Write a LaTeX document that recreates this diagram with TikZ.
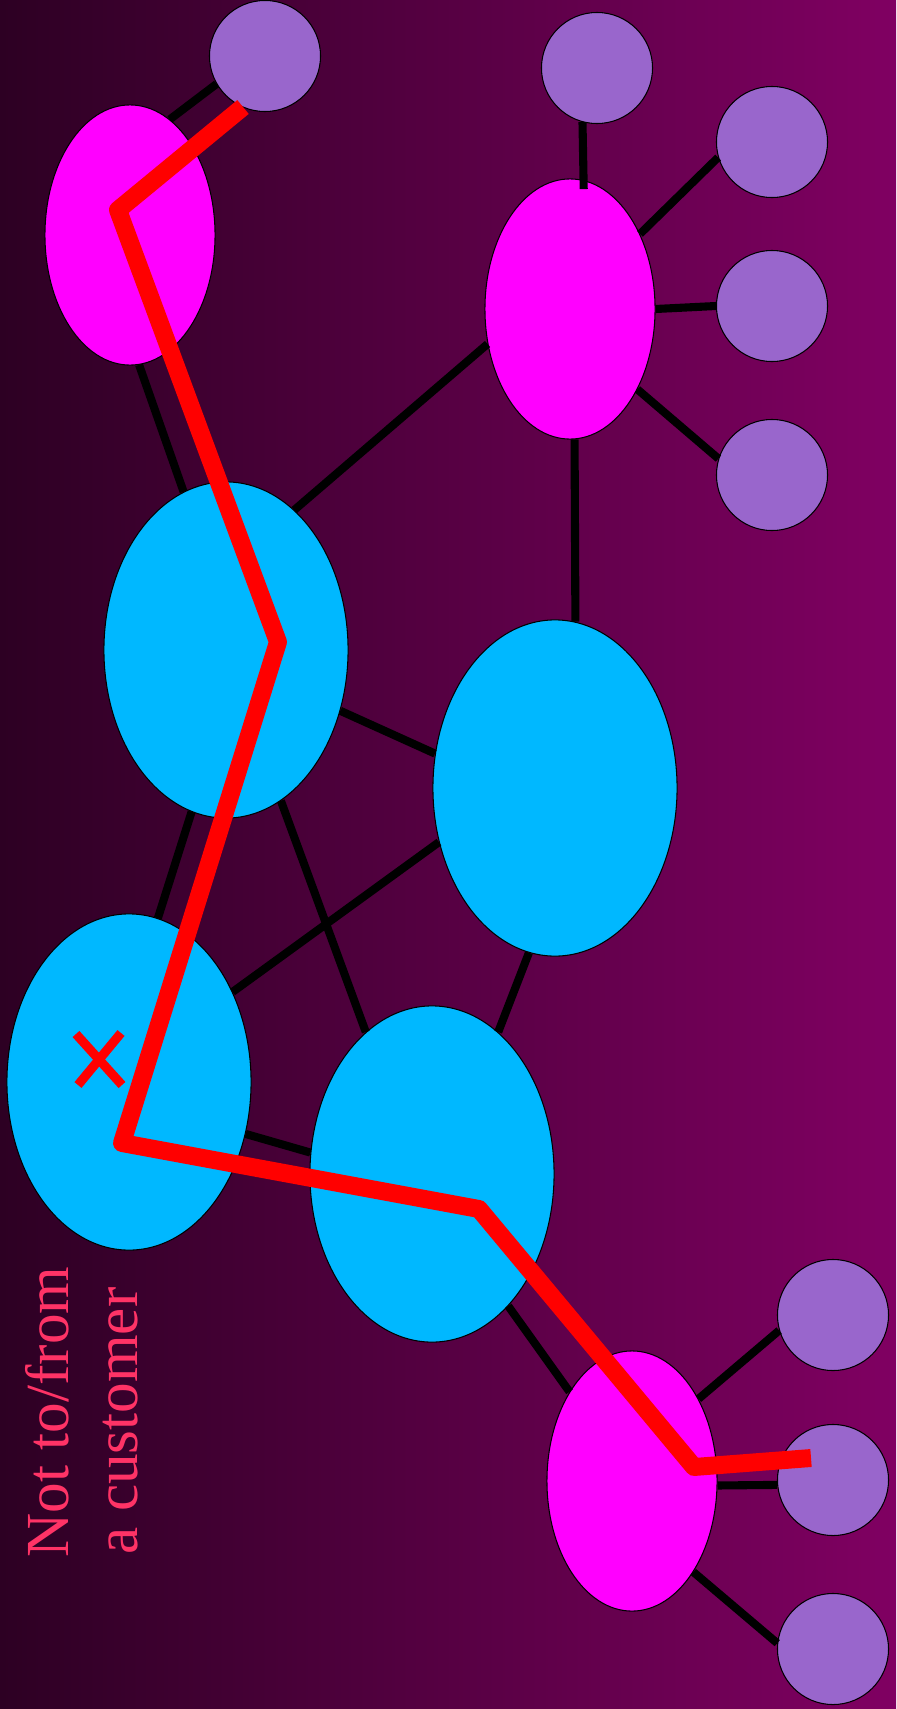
\documentclass[tikz,border=0pt]{standalone}
\usepackage{fontspec}
\setmainfont{Liberation Serif}
\usetikzlibrary{shapes.geometric}
\definecolor{bgL}{RGB}{45,0,35}
\definecolor{bgR}{RGB}{128,0,98}
\definecolor{mag}{RGB}{255,0,255}
\definecolor{cyn}{RGB}{0,184,255}
\definecolor{pur}{RGB}{153,102,204}
\definecolor{txt}{RGB}{255,51,102}
\begin{document}
\begin{tikzpicture}[x=0.01cm,y=-0.01cm,
  hub/.style={ellipse,draw=black,line width=0.3pt,fill=mag,inner sep=0pt,minimum width=1.70cm,minimum height=2.60cm},
  core/.style={ellipse,draw=black,line width=0.3pt,fill=cyn,inner sep=0pt,minimum width=2.44cm,minimum height=3.36cm},
  cust/.style={circle,draw=black,line width=0.3pt,fill=pur,inner sep=0pt,minimum size=1.11cm},
  link/.style={line width=2.3pt,black},
  route/.style={line width=5.1pt,red,line join=round},
  lbl/.style={text=txt,rotate=90,anchor=base west,inner sep=0pt,font=\fontsize{17.4pt}{20pt}\selectfont}]
\useasboundingbox (0,0) rectangle (896,1709);
\shade[left color=bgL,right color=bgR] (0,0) rectangle (896,1709);
% hubs
\node[hub] (M1) at (130,235) {};
\node[hub] (M2) at (570,309) {};
\node[hub] (M3) at (632,1481) {};
% core
\node[core] (C1) at (226,650) {};
\node[core] (C2) at (555,788) {};
\node[core] (C3) at (129,1082) {};
\node[core] (C4) at (432,1174) {};
% customers
\node[cust] (P1) at (265,56) {};
\node[cust] (P2) at (597,68) {};
\node[cust] (P3) at (772,142) {};
\node[cust] (P4) at (772,306) {};
\node[cust] (P5) at (772,475) {};
\node[cust] (P6) at (833,1315) {};
\node[cust] (P7) at (833,1480) {};
\node[cust] (P8) at (833,1649) {};
% links
\draw[link] (M1.71.7) -- (P1.210.8);
\draw[link] (M1.-86.5) -- (C1.105);
\draw[link] (C1.64.9) -- (M2.203.3);
\draw[link, shorten >=-0.09cm] (P2.255.7) -- (M2.84.3);
\draw[link] (M2.47.4) -- (P3.196.8);
\draw[link] (M2.0) -- (P4.180);
\draw[link] (M2.-50.3) -- (P5.163.9);
\draw[link] (M2.-88) -- (C2.83.6);
\draw[link] (C1.-28.7) -- (C2.164.9);
\draw[link] (C1.258.1) -- (C3.80.9);
\draw[link] (C1.-70) -- (C4.115.3);
\draw[link] (C2.205.6) -- (C3.41.2);
\draw[link] (C2.261.9) -- (C4.65.7);
\draw[link] (C3.-24.2) -- (C4.170);
\draw[link] (C4.-60.3) -- (M3.125.3);
\draw[link] (M3.51.8) -- (P6.196.7);
\draw[link] (M3.-3) -- (P7.185);
\draw[link] (M3.-56.5) -- (P8.174.9);
% route
\coordinate (r0) at (243,107);
\coordinate (r1) at (118,210);
\coordinate (r2) at (278,642);
\coordinate (r3) at (122,1143);
\coordinate (r4) at (479,1209);
\coordinate (r5) at (694,1467);
\coordinate (r6) at (811,1458);
\draw[route] (r0) -- (r1) -- (r2) -- (r3) -- (r4) -- (r5) -- (r6);
% cross
\coordinate (x1) at (76,1034);
\coordinate (x2) at (122,1085);
\coordinate (x3) at (121,1033);
\coordinate (x4) at (78,1085);
\draw[line width=2.6pt,red] (x1) -- (x2);
\draw[line width=2.6pt,red] (x3) -- (x4);
% label
\node[lbl] (t1) at (68,1558) {Not to/from};
\node[lbl] (t2) at (137,1555) {a customer};
\end{tikzpicture}
\end{document}
